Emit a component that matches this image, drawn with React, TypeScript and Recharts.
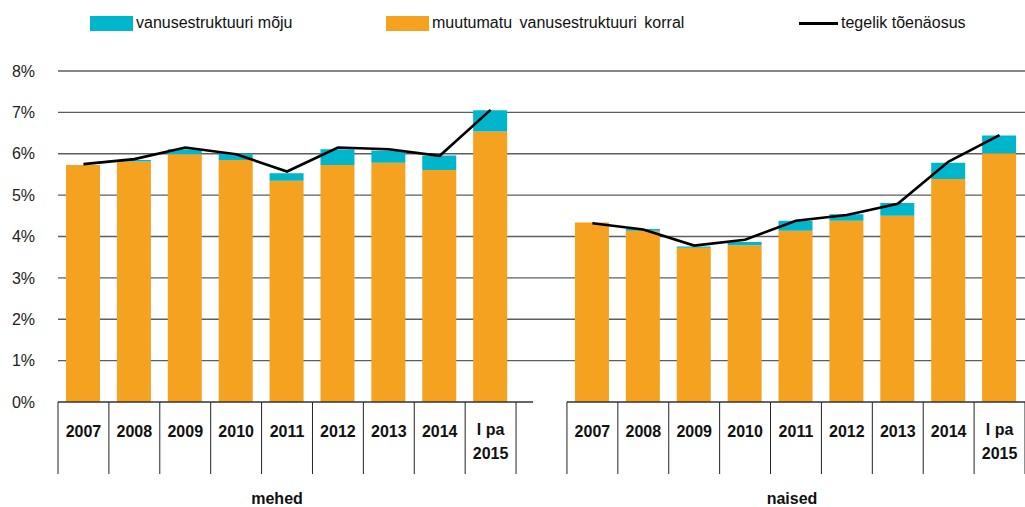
import React from 'react';
import { ComposedChart, Bar, Line, XAxis, YAxis, CartesianGrid, Legend } from 'recharts';

const periodLabels = ['2007', '2008', '2009', '2010', '2011', '2012', '2013', '2014', 'I pa|2015'];
const groupLabels = ['mehed', 'naised'];

const menBase = [5.73, 5.81, 5.99, 5.85, 5.35, 5.73, 5.78, 5.61, 6.54];
const menEffect = [0.0, 0.04, 0.12, 0.15, 0.18, 0.38, 0.3, 0.35, 0.51];
const menActual = [5.75, 5.87, 6.15, 5.99, 5.57, 6.15, 6.11, 5.95, 7.06];

const womenBase = [4.34, 4.14, 3.73, 3.79, 4.14, 4.38, 4.5, 5.39, 6.01];
const womenEffect = [0.0, 0.04, 0.03, 0.08, 0.24, 0.16, 0.31, 0.39, 0.43];
const womenActual = [4.32, 4.17, 3.78, 3.92, 4.38, 4.52, 4.79, 5.81, 6.45];

const yTicks = [0, 1, 2, 3, 4, 5, 6, 7, 8];

const seriesNames = {
  effect: 'vanusestruktuuri mõju',
  base: 'muutumatu vanusestruktuuri korral',
  actual: 'tegelik tõenäosus',
};

const TEAL = '#00B6CD';
const ORANGE = '#F5A220';

type Row = {
  key: string;
  label: string;
  group: number;
  pos: number;
  base: number | null;
  effect: number | null;
  actual: number | null;
};

const data: Row[] = [
  ...periodLabels.map((l, i) => ({
    key: 'm' + i,
    label: l,
    group: 0,
    pos: i,
    base: menBase[i],
    effect: menEffect[i],
    actual: menActual[i],
  })),
  { key: 'gap', label: '', group: -1, pos: -1, base: null, effect: null, actual: null },
  ...periodLabels.map((l, i) => ({
    key: 'w' + i,
    label: l,
    group: 1,
    pos: i,
    base: womenBase[i],
    effect: womenEffect[i],
    actual: womenActual[i],
  })),
];

const CHART_W = 1025;
const CHART_H = 507;
const Y_W = 58;
const X_H = 105;
const TOP = 71;
const AXIS_Y = CHART_H - X_H;
const STEP = (CHART_W - Y_W) / data.length;
const FONT = '"Liberation Sans", Arial, Helvetica, sans-serif';
const GROUP_LABEL_DX = [-10, -4];

const XTick = (props: any) => {
  const { x, index } = props;
  const row = data[index];
  if (!row) return null;
  const left = x - STEP / 2;
  const right = x + STEP / 2;
  if (row.group < 0) {
    return (
      <g>
        <line x1={left} x2={left + 17} y1={AXIS_Y} y2={AXIS_Y} stroke="#333" strokeWidth={1.5} />
      </g>
    );
  }
  const lines = row.label.split('|');
  const isLast = row.pos === periodLabels.length - 1;
  const isMid = row.pos === Math.floor(periodLabels.length / 2);
  return (
    <g>
      <line x1={left} x2={right} y1={AXIS_Y} y2={AXIS_Y} stroke="#333" strokeWidth={1.5} />
      <line x1={left} x2={left} y1={AXIS_Y} y2={AXIS_Y + 72} stroke="#222" strokeWidth={1} />
      {isLast && <line x1={right} x2={right} y1={AXIS_Y} y2={AXIS_Y + 72} stroke="#222" strokeWidth={1} />}
      {lines.length === 1 ? (
        <text x={x} y={AXIS_Y + 35} textAnchor="middle" fontSize={16} fontWeight="bold" fill="#111">
          {lines[0]}
        </text>
      ) : (
        <text x={x} textAnchor="middle" fontSize={16} fontWeight="bold" fill="#111">
          <tspan x={x} y={AXIS_Y + 32.5}>{lines[0]}</tspan>
          <tspan x={x} y={AXIS_Y + 56.5}>{lines[1]}</tspan>
        </text>
      )}
      {isMid && (
        <text
          x={x + GROUP_LABEL_DX[row.group]}
          y={AXIS_Y + 102}
          textAnchor="middle"
          fontSize={16}
          fontWeight="bold"
          fill="#111"
        >
          {groupLabels[row.group]}
        </text>
      )}
    </g>
  );
};

const LegendContent = () => {
  const items = [
    { name: seriesNames.effect, kind: 'rect', color: TEAL, left: 90 },
    { name: seriesNames.base, kind: 'rect', color: ORANGE, left: 386 },
    { name: seriesNames.actual, kind: 'line', color: '#000', left: 799 },
  ];
  return (
    <div style={{ position: 'relative', width: CHART_W, height: 40, fontFamily: FONT, fontSize: 16, color: '#111' }}>
      {items.map((it) => (
        <div key={it.name} style={{ position: 'absolute', left: it.left, top: 0 }}>
          {it.kind === 'rect' ? (
            <div style={{ position: 'absolute', left: 0, top: 16, width: 43, height: 15, background: it.color }} />
          ) : (
            <div style={{ position: 'absolute', left: 0, top: 22, width: 39, height: 2.5, background: it.color }} />
          )}
          <span
            style={{
              position: 'absolute',
              left: it.kind === 'rect' ? 46 : 42,
              top: 15,
              lineHeight: '16px',
              whiteSpace: 'nowrap',
              wordSpacing: it.kind === 'rect' && it.left > 200 ? 3 : 0,
            }}
          >
            {it.name}
          </span>
        </div>
      ))}
    </div>
  );
};

export default function App() {
  return (
    <div style={{ position: 'absolute', left: 0, top: 0, width: CHART_W, height: CHART_H, fontFamily: FONT, background: '#fff' }}>
      <ComposedChart
        width={CHART_W}
        height={CHART_H}
        data={data}
        margin={{ top: TOP, right: 0, bottom: 0, left: 0 }}
        barSize={34}
      >
        <CartesianGrid
          vertical={false}
          horizontalValues={yTicks.filter((t) => t > 0)}
          stroke="#5e5e5e"
          strokeWidth={1.4}
        />
        <XAxis
          dataKey="key"
          type="category"
          height={X_H}
          interval={0}
          tick={<XTick />}
          tickLine={false}
          axisLine={false}
          tickSize={0}
          tickMargin={0}
        />
        <YAxis
          domain={[0, 8]}
          ticks={yTicks}
          tickFormatter={(v: number) => v + '%'}
          width={Y_W}
          axisLine={false}
          tickLine={false}
          tickSize={0}
          tickMargin={23}
          tick={{ fontSize: 16, fill: '#222' }}
          interval={0}
        />
        <Legend
          layout="vertical"
          verticalAlign="middle"
          align="center"
          content={<LegendContent />}
          wrapperStyle={{ top: 0, left: 0, width: CHART_W, height: 40 }}
        />
        <Bar dataKey="base" name={seriesNames.base} stackId="s" fill={ORANGE} isAnimationActive={false} />
        <Bar dataKey="effect" name={seriesNames.effect} stackId="s" fill={TEAL} isAnimationActive={false} />
        <Line
          dataKey="actual"
          name={seriesNames.actual}
          type="linear"
          stroke="#000"
          strokeWidth={2.6}
          dot={false}
          activeDot={false}
          connectNulls={false}
          isAnimationActive={false}
        />
      </ComposedChart>
    </div>
  );
}
